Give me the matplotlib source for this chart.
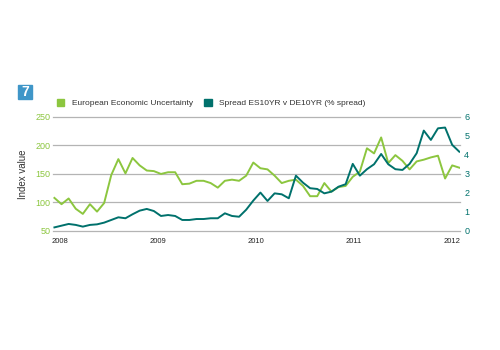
import numpy as np
import matplotlib.pyplot as plt
from matplotlib.patches import Patch, Rectangle

# Monthly-ish observations, 2008 to early 2012
uncertainty = [108, 97, 107, 89, 80, 97, 84, 99, 148, 176, 151, 178, 165, 156,
               155, 150, 153, 153, 132, 133, 138, 138, 134, 126, 138, 140, 138, 147,
               170, 160, 158, 147, 134, 138, 140, 129, 111, 111, 134, 119, 127, 129,
               145, 154, 195, 186, 214, 169, 183, 173, 158, 172, 175, 179, 182, 142,
               165, 161]
spread = [0.19, 0.28, 0.37, 0.32, 0.23, 0.32, 0.35, 0.44, 0.58, 0.72, 0.67, 0.88,
          1.07, 1.16, 1.05, 0.79, 0.84, 0.79, 0.58, 0.58, 0.63, 0.63, 0.67, 0.67,
          0.93, 0.79, 0.75, 1.12, 1.6, 2.02, 1.58, 1.98, 1.93, 1.72, 2.91, 2.54,
          2.25, 2.21, 1.98, 2.07, 2.33, 2.46, 3.53, 2.91, 3.25, 3.51, 4.05, 3.51,
          3.25, 3.21, 3.53, 4.09, 5.28, 4.79, 5.40, 5.44, 4.53, 4.17]
year_labels = ['2008', '2009', '2010', '2011', '2012']
year_pos = [0.8, 14.6, 28.4, 42.2, 56.0]
left_ticks = [50, 100, 150, 200, 250]
right_ticks = [0, 1, 2, 3, 4, 5, 6]

green = '#8cc63f'
teal = '#00716c'
grid = '#b4b4b4'

plt.rcParams['font.family'] = ['Liberation Sans', 'DejaVu Sans']

x = np.arange(len(uncertainty))

fig = plt.figure(figsize=(5, 3.5), dpi=100)
ax = fig.add_axes([0.106, 0.34, 0.814, 0.326])
ax2 = ax.twinx()

for a in (ax, ax2):
    for s in a.spines.values():
        s.set_visible(False)
    a.tick_params(length=0)

ax.set_ylim(50, 250)
ax.set_yticks(left_ticks)
# horizontal rules at the left-axis ticks, incl. the bottom one
for t in left_ticks:
    ax.axhline(t, color=grid, lw=0.9, zorder=1, clip_on=False)
ax.tick_params(axis='y', colors=green, labelsize=6.5, pad=2)
ax.set_ylabel('Index value', fontsize=7, color='#333333', labelpad=5)

ax2.set_ylim(0, 6)
ax2.set_yticks(right_ticks)
ax2.tick_params(axis='y', colors=teal, labelsize=6.5, pad=3)

ax.set_xlim(-0.2, 57.1)
ax.set_xticks(year_pos)
ax.set_xticklabels(year_labels)
ax.tick_params(axis='x', labelsize=5.5, colors='#222222', pad=5)

ax.plot(x, uncertainty, color=green, lw=1.4, zorder=3)
ax2.plot(x, spread, color=teal, lw=1.4, zorder=3)

handles = [Patch(color=green, label='European Economic Uncertainty'),
           Patch(color=teal, label='Spread ES10YR v DE10YR (% spread)')]
fig.legend(handles=handles, loc='center left', bbox_to_anchor=(0.098, 0.705),
           ncol=2, frameon=False, fontsize=6, handlelength=0.9, handleheight=0.9,
           handletextpad=0.9, columnspacing=1.4, labelcolor='#333333')

# figure number badge
fig.patches.append(Rectangle((0.036, 0.717), 0.027, 0.04, transform=fig.transFigure,
                             color='#3f96c8', zorder=5))
fig.text(0.0495, 0.737, '7', color='white', fontsize=10, fontweight='bold',
         ha='center', va='center', zorder=6)

fig.savefig('out.png', dpi=100)
